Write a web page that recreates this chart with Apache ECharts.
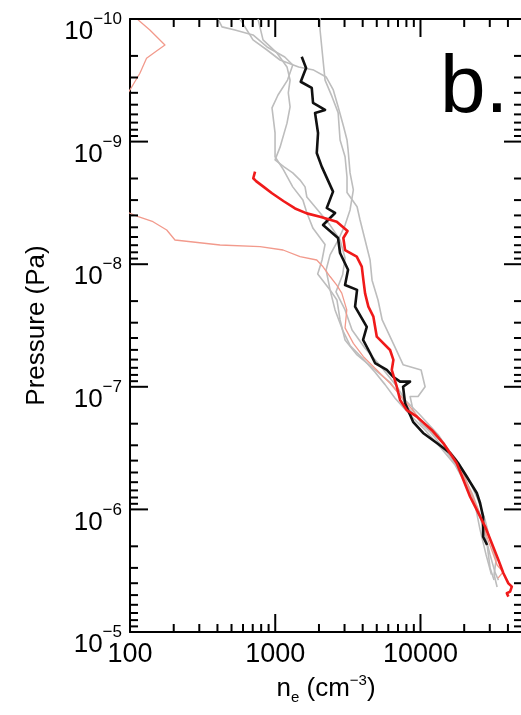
<!DOCTYPE html>
<html><head><meta charset="utf-8">
<script src="https://cdn.jsdelivr.net/npm/echarts@6/dist/echarts.min.js"></script>
<style>html,body{margin:0;padding:0;background:#fff}#c{width:521px;height:715px}</style>
</head><body><div id="c"></div>
<script>
// ---- axis ranges and ticks ----
const xMin = 100, xMax = 50000;
const yMin = 1e-10, yMax = 1e-5;
const xMajorTicks = [100, 1000, 10000];
const xMinorTicks = [200,300,400,500,600,700,800,900,2000,3000,4000,5000,6000,7000,8000,9000,20000,30000,40000];
const yMajorTicks = [1e-10,1e-9,1e-8,1e-7,1e-6,1e-5];
const yMinorTicks = [2e-10,3e-10,4e-10,5e-10,6e-10,7e-10,8e-10,9e-10,
  2e-9,3e-9,4e-9,5e-9,6e-9,7e-9,8e-9,9e-9,
  2e-8,3e-8,4e-8,5e-8,6e-8,7e-8,8e-8,9e-8,
  2e-7,3e-7,4e-7,5e-7,6e-7,7e-7,8e-7,9e-7,
  2e-6,3e-6,4e-6,5e-6,6e-6,7e-6,8e-6,9e-6];

// ---- series data: electron density (cm^-3) and pressure (Pa) ----
const gray1Ne = [2035,2035,2100,2203,2460,2710,2795,3025,3120,3120,3660,3837,4154,4497,4640,5100,5450,6480,7590,10100,10757,9620,8481,8890,10100,13646,17313,21250,24930,27860,30150,33150,32100,33700];
const gray1P  = [9.3e-11,1.23e-10,1.79e-10,3.15e-10,4.3e-10,5.8e-10,9.7e-10,1.33e-9,1.95e-9,2.6e-9,3.4e-9,4.36e-9,6.35e-9,9.24e-9,1.35e-8,1.96e-8,2.85e-8,4.4e-8,6.6e-8,7.29e-8,1.0e-7,1.2e-7,1.2e-7,1.55e-7,2.0e-7,2.72e-7,3.8e-7,5.5e-7,8.38e-7,1.22e-6,1.78e-6,2.59e-6,3.4e-6,4.3e-6];
const gray2Ne = [404,430,528,703,878,1163,1320,1215,1045,950,997,997,1140,1320,1550,1650,1820,2203,2100,1960,2385,2660,2795,3025,3660,4867,6174,7237,8481,11645,14771,18740,22700,26550,28770,30150,32100];
const gray2P  = [1.0e-10,1.16e-10,1.23e-10,1.35e-10,1.69e-10,2.04e-10,2.37e-10,3.15e-10,4.17e-10,5.3e-10,8.5e-10,1.33e-9,1.70e-9,2.34e-9,2.99e-9,3.8e-9,5.1e-9,6.9e-9,9.24e-9,1.2e-8,1.62e-8,1.96e-8,2.85e-8,4.15e-8,5.5e-8,7.29e-8,9.2e-8,1.17e-7,1.55e-7,2.33e-7,3.28e-7,4.77e-7,7.4e-7,1.22e-6,1.95e-6,3.0e-6,3.77e-6];
const gray3Ne = [761,824,1030,1205,1265,1230,1265,1205,1079,997,1150,1320,1482,1604,1650,1960,2385,2795,3025,2910,2620,3025,3380,4154,5270,6900,7833,9936,13200,16500,20288,23770,25736,28300,30800];
const gray3P  = [1.0e-10,1.48e-10,1.9e-10,2.46e-10,3.15e-10,4.0e-10,5.2e-10,7.07e-10,1.11e-9,1.41e-9,1.61e-9,1.8e-9,2.06e-9,2.34e-9,2.83e-9,3.61e-9,4.8e-9,6.35e-9,8.9e-9,1.22e-8,1.68e-8,2.36e-8,3.44e-8,4.85e-8,6.7e-8,1.0e-7,1.28e-7,1.7e-7,2.45e-7,3.6e-7,5.5e-7,9.2e-7,1.47e-6,2.35e-6,3.4e-6];
const gray4Ne = [572,703,878,1079,1450,1840,2240,2510,2710,2960,3120,3175,3274,3450,3274,3025,2710,2385,2240,2385,2581,2910,3274,3960,4867,5705,6686,8481,10757,13646,17313,21250,24930,27860,30150,32650,34400];
const gray4P  = [1.0e-10,1.48e-10,1.79e-10,2.16e-10,2.46e-10,2.61e-10,2.97e-10,3.79e-10,5.2e-10,7.6e-10,9.7e-10,1.17e-9,1.8e-9,2.48e-9,3.61e-9,4.8e-9,6.35e-9,8.4e-9,1.115e-8,1.62e-8,2.36e-8,3.44e-8,4.6e-8,5.8e-8,7.6e-8,9.6e-8,1.24e-7,1.7e-7,2.25e-7,3.1e-7,4.35e-7,6.7e-7,1.01e-6,1.62e-6,2.35e-6,3.28e-6,3.77e-6];
const salmonNe = [106,114,137,174,149,130,117,103,60,60,114,144,179,204,417,786,1132,1482,1931,2134,2384,2652,2871,3108,3024,3451,4045,5002,6174,8050,10470,13650,17780,21270,24930,29220,33700,37060,34200];
const salmonP  = [8.45e-11,1.02e-10,1.23e-10,1.63e-10,1.86e-10,2.09e-10,2.77e-10,3.57e-10,1.0e-9,3.0e-9,4.10e-9,4.50e-9,5.26e-9,6.35e-9,6.97e-9,7.20e-9,7.66e-9,8.68e-9,9.24e-9,1.05e-8,1.26e-8,1.48e-8,1.72e-8,2.36e-8,3.31e-8,4.42e-8,5.68e-8,7.29e-8,9.37e-8,1.36e-7,1.98e-7,2.72e-7,3.95e-7,6.32e-7,1.01e-6,1.78e-6,2.84e-6,3.24e-6,3.63e-6];
const blackNe = [1522,1630,1498,1784,1821,2203,1880,1971,1931,2090,2500,2263,2582,2134,2707,2793,3172,3024,3659,3545,4268,4025,4497,4867,5861,6474,7237,8475,7587,7833,8892,10420,12950,15990,18150,20840,24420,25720,26990,26990,28760];
const blackP  = [2.03e-10,2.51e-10,3.25e-10,3.65e-10,4.84e-10,5.52e-10,5.84e-10,8.51e-10,1.24e-9,1.60e-9,2.56e-9,3.48e-9,3.82e-9,4.79e-9,6.11e-9,8.1e-9,1.11e-8,1.48e-8,1.62e-8,2.22e-8,3.24e-8,4.15e-8,5.30e-8,6.40e-8,7.29e-8,8.27e-8,9.08e-8,9.08e-8,9.98e-8,1.36e-7,1.93e-7,2.38e-7,2.87e-7,3.47e-7,4.18e-7,5.41e-7,7.35e-7,8.87e-7,1.15e-6,1.67e-6,1.95e-6];
const redNe = [726,706,738,828,950,1137,1369,1648,2035,2652,3147,2944,3024,3640,3943,4045,4155,4377,4739,5002,6174,6507,6342,6867,7237,8050,9430,11960,14380,17780,19750,21960,24420,27860,30970,34400,37240,40290,42550,41400,39300,40290];
const redP  = [1.76e-9,1.99e-9,2.10e-9,2.33e-9,2.64e-9,3.05e-9,3.51e-9,3.85e-9,4.10e-9,4.50e-9,5.36e-9,6.11e-9,7.66e-9,8.68e-9,1.048e-8,1.35e-8,1.73e-8,2.22e-8,2.68e-8,3.90e-8,5.01e-8,6.04e-8,7.29e-8,9.98e-8,1.28e-7,1.55e-7,1.75e-7,2.25e-7,2.89e-7,4.21e-7,5.76e-7,7.88e-7,1.01e-6,1.38e-6,1.89e-6,2.59e-6,3.32e-6,4.01e-6,4.27e-6,4.69e-6,4.83e-6,5.15e-6];

const zip = (a, b) => a.map((v, i) => [v, b[i]]);
const FONT = '"Liberation Sans", Arial, Helvetica, sans-serif';

function isDecade(v) {
  const l = Math.log10(v);
  return Math.abs(l - Math.round(l)) < 1e-6;
}

const chart = echarts.init(document.getElementById('c'), null, {renderer: 'canvas'});

function lineSeries(name, data, color, width, z) {
  return {
    name, type: 'line', data, xAxisIndex: 0, yAxisIndex: 0,
    showSymbol: false, symbol: 'none', smooth: false, clip: true, z,
    lineStyle: {color, width, join: 'round'}, animation: false, silent: true
  };
}

const xTickData = xMajorTicks.map(v => [v, yMax, 1]).concat(xMinorTicks.map(v => [v, yMax, 0]));
const yTickData = yMajorTicks.map(v => [xMin, v, 1]).concat(yMinorTicks.map(v => [xMin, v, 0]));
const tickStyle = {stroke: '#000', lineWidth: 2};

const option = {
  backgroundColor: '#fff',
  animation: false,
  textStyle: {fontFamily: FONT},
  grid: {left: 130, top: 19, width: 392, height: 613, containLabel: false, outerBoundsMode: 'none'},
  xAxis: [{
    type: 'log', logBase: 10, min: xMin, max: xMax, position: 'bottom',
    axisLine: {show: true, lineStyle: {color: '#000', width: 2}},
    axisTick: {show: false}, splitLine: {show: false}, minorTick: {show: false},
    axisLabel: {
      show: true, color: '#000', fontSize: 27, fontFamily: FONT, margin: 9,
      showMinLabel: true, showMaxLabel: true,
      formatter: v => isDecade(v) ? String(Math.round(v)) : ''
    },
    name: '{n|n}{sub|e}{n| (cm}{sup|−3}{n|)}',
    nameLocation: 'middle', nameGap: 40,
    nameTextStyle: {
      color: '#000', fontFamily: FONT,
      rich: {
        n: {fontSize: 26, color: '#000', fontFamily: FONT, lineHeight: 32, verticalAlign: 'middle'},
        sub: {fontSize: 15, color: '#000', fontFamily: FONT, lineHeight: 15, verticalAlign: 'bottom'},
        sup: {fontSize: 15, color: '#000', fontFamily: FONT, lineHeight: 15, verticalAlign: 'top'}
      }
    }
  }, {
    type: 'log', logBase: 10, min: xMin, max: xMax, position: 'top',
    axisLine: {show: true, lineStyle: {color: '#000', width: 2}},
    axisTick: {show: false}, splitLine: {show: false}, axisLabel: {show: false}
  }],
  yAxis: [{
    type: 'log', logBase: 10, min: yMin, max: yMax, inverse: true, position: 'left',
    axisLine: {show: true, lineStyle: {color: '#000', width: 2}},
    axisTick: {show: false}, splitLine: {show: false}, minorTick: {show: false},
    axisLabel: {
      show: true, color: '#000', fontFamily: FONT, margin: 8,
      showMinLabel: true, showMaxLabel: true, padding: [18, 0, 0, 0],
      formatter: v => isDecade(v) ? '{b|10}{s|−' + (-Math.round(Math.log10(v))) + '}' : '',
      rich: {
        b: {fontSize: 26, color: '#000', fontFamily: FONT, lineHeight: 34, verticalAlign: 'bottom'},
        s: {fontSize: 17, color: '#000', fontFamily: FONT, lineHeight: 14, verticalAlign: 'top'}
      }
    },
    name: 'Pressure (Pa)', nameLocation: 'middle', nameGap: 80, nameRotate: 90,
    nameTextStyle: {color: '#000', fontSize: 26, fontFamily: FONT}
  }, {
    type: 'log', logBase: 10, min: yMin, max: yMax, inverse: true, position: 'right',
    axisLine: {show: true, lineStyle: {color: '#000', width: 2}},
    axisTick: {show: false}, splitLine: {show: false}, axisLabel: {show: false}
  }],
  graphic: [{
    type: 'text', x: 440, y: 89, z: 100,
    style: {text: 'b.', font: '82px ' + FONT, fill: '#000', align: 'left', verticalAlign: 'middle'}
  }],
  series: [
    lineSeries('g1', zip(gray1Ne, gray1P), '#bdbdbd', 1.6, 2),
    lineSeries('g2', zip(gray2Ne, gray2P), '#bdbdbd', 1.6, 2),
    lineSeries('g3', zip(gray3Ne, gray3P), '#bdbdbd', 1.6, 2),
    lineSeries('g4', zip(gray4Ne, gray4P), '#bdbdbd', 1.6, 2),
    lineSeries('salmon', zip(salmonNe, salmonP), '#f29a8c', 1.3, 3),
    lineSeries('black', zip(blackNe, blackP), '#111111', 2.6, 4),
    lineSeries('red', zip(redNe, redP), '#f01a1a', 2.6, 5),
    {
      type: 'custom', xAxisIndex: 0, yAxisIndex: 0, silent: true, clip: false, z: 10,
      data: xTickData, encode: {x: 0, y: 1},
      renderItem: (params, api) => {
        const cs = params.coordSys;
        const x = api.coord([api.value(0), yMax])[0];
        const len = api.value(2) ? 18 : 8;
        const b = cs.y + cs.height, t = cs.y;
        return {type: 'group', children: [
          {type: 'line', shape: {x1: x, y1: b, x2: x, y2: b - len}, style: tickStyle},
          {type: 'line', shape: {x1: x, y1: t, x2: x, y2: t + len}, style: tickStyle}
        ]};
      }
    },
    {
      type: 'custom', xAxisIndex: 0, yAxisIndex: 0, silent: true, clip: false, z: 10,
      data: yTickData, encode: {x: 0, y: 1},
      renderItem: (params, api) => {
        const cs = params.coordSys;
        const y = api.coord([xMin, api.value(1)])[1];
        const len = api.value(2) ? 18 : 8;
        const l = cs.x, r = cs.x + cs.width;
        return {type: 'group', children: [
          {type: 'line', shape: {x1: l, y1: y, x2: l + len, y2: y}, style: tickStyle},
          {type: 'line', shape: {x1: r, y1: y, x2: r - len, y2: y}, style: tickStyle}
        ]};
      }
    }
  ]
};
chart.setOption(option);
</script>
</body></html>
